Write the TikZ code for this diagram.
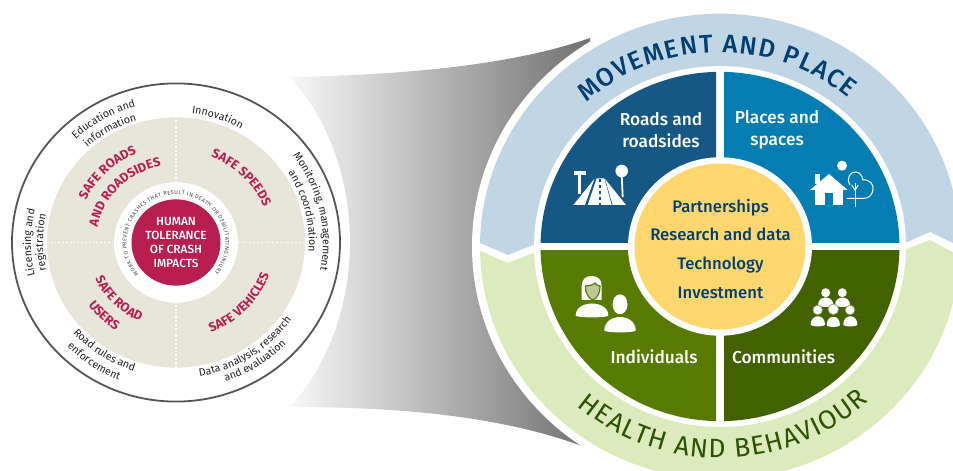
\documentclass[tikz,border=0pt]{standalone}
\usepackage{fontspec}
\setmainfont{Fira Sans}
\newfontfamily\medfont{Fira Sans Medium}
\usetikzlibrary{decorations.text}
\definecolor{crimson}{HTML}{B81E4F}
\definecolor{beige}{HTML}{E8E6D8}
\definecolor{ringgray}{HTML}{555555}
\definecolor{roadblue}{HTML}{155785}
\definecolor{placeblue}{HTML}{047DB3}
\definecolor{indgreen}{HTML}{567B00}
\definecolor{comgreen}{HTML}{426200}
\definecolor{coreyellow}{HTML}{FFD76E}
\definecolor{navy}{HTML}{003F72}
\definecolor{paleblue}{HTML}{C1D6E5}
\definecolor{palegreen}{HTML}{DCEBBE}
\definecolor{darkgreen}{HTML}{2C5200}
\definecolor{inktext}{HTML}{222222}
\definecolor{inkgray}{HTML}{444444}
\newcommand{\ringtext}[7][center]{\path[decorate,decoration={text along path,text align={#1},text color=#2,text={|#3|#7}}] (#4:#6) arc[start angle=#4,end angle=#5,radius=#6];}
\newcommand{\dome}[5]{\fill[#1] (#2,#4) .. controls (#2,#5) and (#3,#5) .. (#3,#4) .. controls (#3,#4+2.5) and (#2,#4+2.5) .. cycle;}
\newcommand{\ringfont}{\fontsize{10.6}{12}\selectfont}
\newcommand{\safefont}{\bfseries\fontsize{12.8}{15}\selectfont}
\newcommand{\tinyfont}{\fontsize{5.5}{7}\selectfont}
\newcommand{\topfont}{\medfont\fontsize{25.5}{30}\selectfont}
\newcommand{\lowfont}{\fontsize{26.5}{30}\selectfont}
\begin{document}
\begin{tikzpicture}[
    x=1pt,y=1pt,
    leftc/.style={shift={(176,228.5)},yscale=.97},
    rightc/.style={shift={(720,224.5)},yscale=.97},
    px/.style={shift={(0,471)},yscale=-1},
    quad/.style={text=white,font=\medfont\fontsize{17.3}{22}\selectfont,align=center},
    core/.style={text=navy,font=\medfont\fontsize{16.7}{20}\selectfont,anchor=base},
    dots/.style={white,line width=1.7pt,dash pattern=on 1.8pt off 2pt}
    ]
	\useasboundingbox (0,0) rectangle (953,471);
	\clip (0,0) rectangle (953,471);
	\shade[left color=black!3,right color=black!56] (290,64) .. controls (370,152) and (370,306) .. (290,394)
		.. controls (400,396) and (510,405) .. (590,433) -- (590,22) .. controls (505,55) and (400,64) .. cycle;

	\begin{scope}[leftc]
		\draw[ringgray,fill=white,line width=1.8pt] (0,0) circle[radius=164];
		\fill[beige] (0,0) circle[radius=129];
		\draw[dots] (-129,0) -- (-62,0);
		\draw[dots] (62,0) -- (129,0);
		\draw[dots] (0,-129) -- (0,-62);
		\draw[dots] (0,62) -- (0,129);
		\fill[white] (0,0) circle[radius=62];
		\fill[crimson] (0,0) circle[radius=44.5];
		\ringtext{inktext}{\ringfont}{102}{42}{134}{Innovation}
		\ringtext{inktext}{\ringfont}{160}{80}{146}{Education and}
		\ringtext{inktext}{\ringfont}{160}{80}{132}{information}
		\ringtext{inktext}{\ringfont}{220}{140}{145}{Licensing and}
		\ringtext{inktext}{\ringfont}{220}{140}{133}{registration}
		\ringtext{inktext}{\ringfont}{60}{-34}{147}{Monitoring, management}
		\ringtext{inktext}{\ringfont}{60}{-32}{133}{and coordination}
		\ringtext{inktext}{\ringfont}{-105}{-9}{140}{Data analysis, research}
		\ringtext{inktext}{\ringfont}{-95}{-19}{152}{and evaluation}
		\ringtext{inktext}{\ringfont}{197}{277}{139}{Road rules and}
		\ringtext{inktext}{\ringfont}{196}{276}{153}{enforcement}
		\ringtext{crimson}{\safefont}{184}{84}{100}{SAFE ROADS}
		\ringtext{crimson}{\safefont}{195}{75}{80}{AND ROADSIDES}
		\ringtext{crimson}{\safefont}{100}{-10}{95}{SAFE SPEEDS}
		\ringtext{crimson}{\safefont}{-94}{6}{99}{SAFE VEHICLES}
		\ringtext{crimson}{\safefont}{175}{275}{89}{SAFE ROAD}
		\ringtext{crimson}{\safefont}{186}{266}{109}{USERS}
		\ringtext[fit to path]{inkgray}{\tinyfont}{221}{-39}{49.5}{WORK TO PREVENT CRASHES THAT RESULT IN DEATH OR DEBILITATING INJURY}
		\node (human) at (0,0) [text=white,font=\medfont\fontsize{11.8}{14}\selectfont,align=center] {HUMAN\\TOLERANCE\\OF CRASH\\IMPACTS};
	\end{scope}

	\begin{scope}[rightc]
		\fill[white] (0,0) circle[radius=248];
	\end{scope}
	\fill[paleblue] (480,224.5) arc[start angle=180,end angle=0,x radius=240,y radius=232.8] -- (930,239) -- (905,228) -- (720,228) -- (533,226) -- (508,216) -- (480,228) -- cycle;
	\fill[palegreen] (480,220) -- (508,208) -- (533,218) -- (720,218) -- (904,221) -- (930,231) -- (959.8,215) arc[start angle=-2.33,end angle=-180,x radius=240,y radius=232.8] -- cycle;
	\begin{scope}[rightc]
		\fill[white] (0,0) circle[radius=186];
		\fill[roadblue] (-4,4) -- (-4,180) arc[start angle=91.3,end angle=179,radius=179.5] -- cycle;
		\fill[placeblue] (4,4) -- (4,180) arc[start angle=88.7,end angle=1,radius=179.5] -- cycle;
		\fill[indgreen] (-4,-4) -- (-4,-180) arc[start angle=268.7,end angle=181,radius=179.5] -- cycle;
		\fill[comgreen] (4,-4) -- (4,-180) arc[start angle=-88.7,end angle=-1,radius=179.5] -- cycle;
		\fill[white] (0,0) circle[radius=92];
		\fill[coreyellow] (0,0) circle[radius=85.5];
		\ringtext[fit to path]{navy}{\topfont}{132}{50}{200}{MOVEMENT AND PLACE}
		\ringtext[fit to path]{darkgreen}{\lowfont}{229}{313}{218}{HEALTH AND BEHAVIOUR}
	\end{scope}

	\node (roads) at (661,341) [quad] {Roads and\\roadsides};
	\node (places) at (777,341) [quad] {Places and\\spaces};
	\node (individuals) at (654,107) [quad,anchor=base] {Individuals};
	\node (communities) at (783.5,107) [quad,anchor=base] {Communities};
	\node (partners) at (720.5,258) [core] {Partnerships};
	\node (research) at (720.5,230) [core] {Research and data};
	\node (technology) at (720.5,201) [core] {Technology};
	\node (investment) at (720.5,172) [core] {Investment};

	\begin{scope}[px]
		% road
		\fill[white] (574,170.7) rectangle (585.7,175);
		\fill[white] (578.3,175) rectangle (580.7,194);
		\fill[white] (573.3,205) -- (585,205) -- (594.3,179) -- cycle;
		\fill[white] (587.7,205) -- (611.7,205) -- (604.3,178.3) -- (596.7,178.3) -- cycle;
		\fill[white] (612.7,205) -- (626,205) -- (605,179) -- cycle;
		\draw[roadblue,line width=1.4pt,dash pattern=on 3pt off 3pt] (600,179) -- (600,205);
		\fill[white] (621.7,171) circle[radius=6.3];
		\draw[white,line width=1.8pt] (621.7,175) -- (622.7,197);
		% house and tree
		\fill[white] (842,165.7) circle[radius=5];
		\fill[white] (815,174) rectangle (820,184);
		\fill[white] (810,190) -- (829,174) -- (847.7,190) -- cycle;
		\fill[white] (815,190) rectangle (842.7,205);
		\fill[placeblue] (825,193.3) rectangle (833.3,205);
		\draw[white,line width=1pt] (850,185) .. controls (846,178) and (850,172) .. (855.5,172) .. controls (860,172) and (862,176) .. (863,180) .. controls (870,179) and (874,185) .. (873,190) .. controls (872,196) and (868,198.3) .. (864,198.3) -- (846.7,198.3);
		\draw[white,line width=1pt] (855,183) -- (855,206.7);
		\draw[white,line width=1pt] (851.7,185) -- (855,190) -- (858.3,185);
		% individuals
		\fill[white] (581.7,300) -- (581.7,286) .. controls (581.7,279) and (586,276) .. (591.7,276) .. controls (597.4,276) and (601.7,279) .. (601.7,286) -- (601.7,300) -- cycle;
		\draw[indgreen,line width=1.2pt,fill=white!60!indgreen] (585.5,286) .. controls (589,286) and (593,285) .. (595,283) .. controls (596,285) and (598,286) .. (600,286) .. controls (600.5,293) and (597,298) .. (592.7,300) .. controls (588.5,298) and (585,293) .. (585.5,286) -- cycle;
		\dome{white}{575.7}{608.3}{315.5}{299.5}
		\fill[white] (620,304.3) ellipse[x radius=7.5,y radius=10];
		\dome{white}{604.3}{635.7}{330.5}{312.5}
		% communities
		\dome{white}{818}{833.3}{305}{295}
		\dome{white}{835}{850}{305}{295}
		\fill[white] (825.7,292.7) circle[radius=4.5];
		\fill[white] (842.3,292.7) circle[radius=4.5];
		\draw[comgreen!60!white,fill=white,line width=.8pt] (817.7,310) circle[radius=4.8];
		\draw[comgreen!60!white,fill=white,line width=.8pt] (833.3,309.3) circle[radius=5.3];
		\draw[comgreen!60!white,fill=white,line width=.8pt] (850,310) circle[radius=4.8];
		\dome{white}{810.7}{825}{324.5}{313.5}
		\dome{white}{826.7}{840}{325}{314}
		\dome{white}{843.3}{857.3}{324.5}{313.5}
	\end{scope}
\end{tikzpicture}
\end{document}
